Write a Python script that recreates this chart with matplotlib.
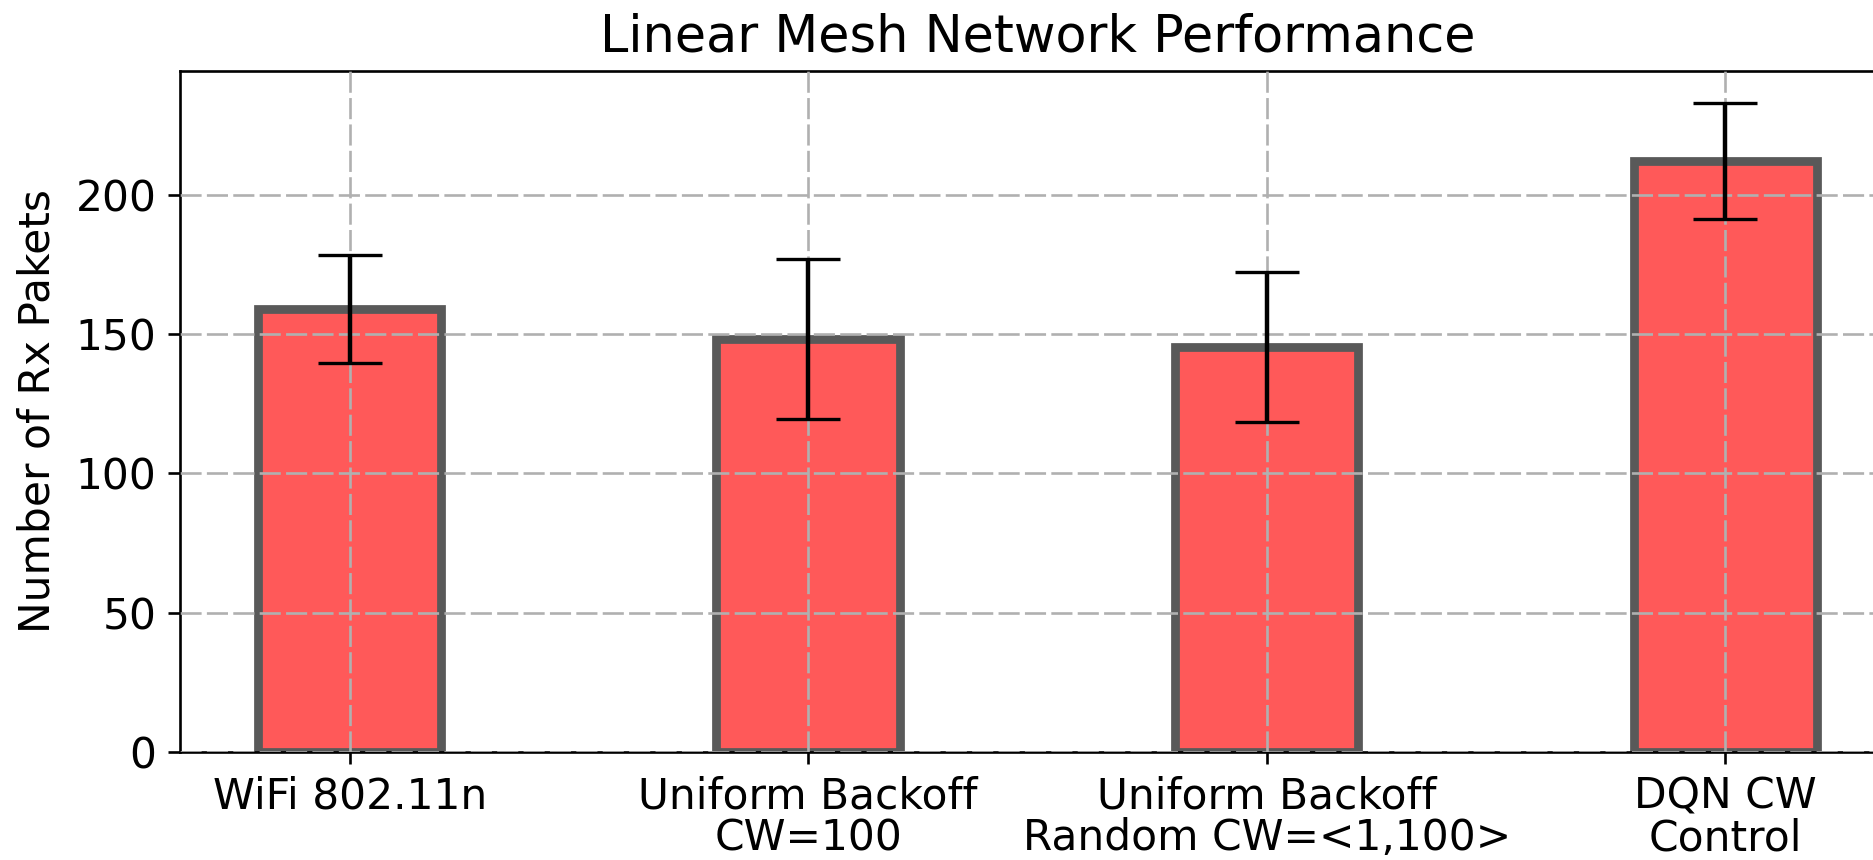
import matplotlib
matplotlib.use("Agg")
import matplotlib.pyplot as plt
import numpy as np

# valores
categories = ['WiFi 802.11n', 'Uniform Backoff\nCW=100',
              'Uniform Backoff\nRandom CW=<1,100>', 'DQN CW\nControl']
rx_mean = [159.0, 148.2, 145.4, 212.2]
rx_err = [19.3, 28.7, 26.9, 20.8]

fig = plt.figure(figsize=(18.73, 8.60), dpi=100)
# a area do grafico passa da borda direita como no original
ax = fig.add_axes([0.0961, 0.1257, 0.9156, 0.7921])

x = np.arange(len(categories))
ax.bar(x, rx_mean, width=0.4, color='#ff5959', edgecolor='#595959',
       linewidth=6.3, zorder=1)
ax.errorbar(x, rx_mean, yerr=rx_err, fmt='none', ecolor='black',
            elinewidth=3.2, capsize=22.7, capthick=2.4, zorder=3)

ax.set_xticks(x)
ax.set_xticklabels(categories, linespacing=1.0)
ax.set_yticks([0, 50, 100, 150, 200])
ax.set_ylabel('Number of Rx Pakets', fontsize=30.5, labelpad=12)
ax.set_title('Linear Mesh Network Performance', fontsize=36.6, pad=14)

ax.set_axisbelow(False)
ax.grid(True, color='#b0b0b0', linewidth=1.9, linestyle=(0, (8, 2)), zorder=2.5)

ax.tick_params(labelsize=30.5, length=8.4, width=1.9, pad=8.4)
for s in ax.spines.values():
    s.set_linewidth(1.9)

fig.savefig('out.png', dpi=100)
